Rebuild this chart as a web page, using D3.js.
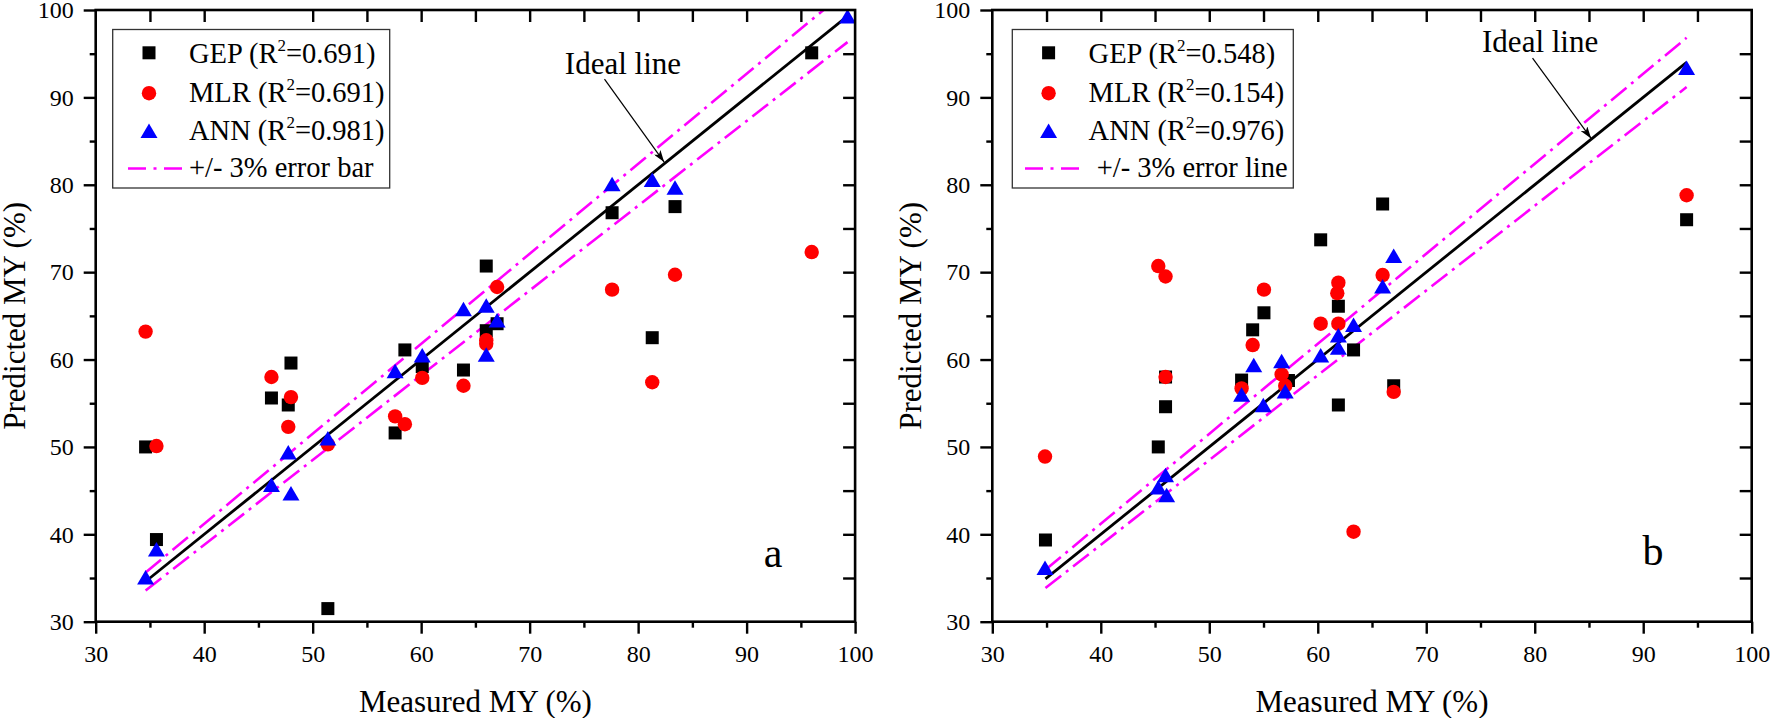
<!DOCTYPE html>
<html><head><meta charset="utf-8">
<script src="https://cdn.jsdelivr.net/npm/d3@7"></script>
<style>
body{margin:0;background:#fff}
svg{display:block}
text{font-family:"Liberation Serif","Times New Roman",serif;fill:#000}
</style>
</head><body>
<svg id="chart" width="1770" height="718"></svg>
<script>
// ---------- DATA ----------
const axisTicks = [30, 40, 50, 60, 70, 80, 90, 100];
const minorTicks = [35, 45, 55, 65, 75, 85, 95];

// Panel a
const aGepMeasured  = [34.6, 35.6, 46.2, 47.75, 48.0, 51.4, 57.6, 58.5, 60.1, 63.9, 66.0, 66.0, 67.0, 77.6, 81.3, 83.4, 96.0];
const aGepPredicted = [50.0, 39.4, 55.6, 54.8, 59.6, 31.5, 51.6, 61.1, 59.2, 58.8, 70.7, 63.3, 64.1, 76.8, 62.5, 77.5, 95.1];
const aMlrMeasured  = [34.6, 35.6, 46.2, 47.75, 48.0, 51.4, 57.6, 58.5, 60.1, 63.9, 66.0, 66.0, 67.0, 77.6, 81.3, 83.4, 96.0];
const aMlrPredicted = [63.2, 50.1, 58.0, 52.3, 55.7, 50.3, 53.5, 52.6, 57.9, 57.0, 62.2, 61.8, 68.3, 68.0, 57.4, 69.7, 72.3];
const aAnnMeasured  = [34.6, 35.6, 46.2, 47.75, 48.0, 51.4, 57.6, 60.1, 63.9, 66.0, 66.0, 67.0, 77.6, 81.3, 83.4, 99.3];
const aAnnPredicted = [35.0, 38.2, 45.6, 49.3, 44.6, 50.9, 58.6, 60.4, 65.7, 66.1, 60.5, 64.4, 80.0, 80.5, 79.6, 99.2];
const aIdealRange = [34.6, 99.3];
const aLegendLabels = ["GEP (R", "MLR (R", "ANN (R"];
const aR2 = ["0.691", "0.691", "0.981"];
const aErrorLabel = "+/- 3% error bar";

// Panel b
const bGepMeasured  = [34.9, 45.3, 45.97, 45.97, 52.98, 54.0, 55.04, 57.3, 60.27, 61.9, 61.9, 63.3, 65.98, 67.0, 94.0];
const bGepPredicted = [39.35, 50.0, 54.6, 58.0, 57.65, 63.4, 65.35, 57.6, 73.7, 66.1, 54.8, 61.1, 77.8, 57.0, 76.0];
const bMlrMeasured  = [34.86, 45.3, 45.97, 45.97, 52.98, 54.0, 55.04, 56.67, 57.0, 60.27, 61.9, 61.8, 61.9, 63.3, 65.98, 67.0, 94.0];
const bMlrPredicted = [48.9, 70.7, 69.5, 58.0, 56.7, 61.66, 68.0, 58.3, 57.0, 64.1, 68.8, 67.6, 64.1, 40.3, 69.67, 56.3, 78.8];
const bAnnMeasured  = [34.86, 45.3, 45.97, 46.07, 52.98, 54.1, 54.98, 56.67, 57.0, 60.27, 61.9, 61.9, 63.3, 65.98, 67.0, 94.0];
const bAnnPredicted = [36.1, 45.3, 46.7, 44.4, 55.9, 59.3, 54.7, 59.75, 56.3, 60.4, 62.7, 61.3, 63.9, 68.3, 71.8, 93.3];
const bIdealRange = [34.9, 94.0];
const bLegendLabels = ["GEP (R", "MLR (R", "ANN (R"];
const bR2 = ["0.548", "0.154", "0.976"];
const bErrorLabel = "+/- 3% error line";

const errorFraction = 0.03;

// ---------- LAYOUT ----------
const panels = [
  { letter: "a", left: 95.7, gx: aGepMeasured, gy: aGepPredicted, mx: aMlrMeasured, my: aMlrPredicted,
    nx: aAnnMeasured, ny: aAnnPredicted, ideal: aIdealRange, labels: aLegendLabels, r2: aR2, errLabel: aErrorLabel,
    legX: 17, legW: 277, errTextX: 76.3, lineX: [15.3, 70.3],
    arrow: [[76.9, 92.1], [82.4, 82.6]], idealText: [78.6, 92.7], letterPos: [677.3, 566.7], skipTop: [45] },
  { letter: "b", left: 992.3, gx: bGepMeasured, gy: bGepPredicted, mx: bMlrMeasured, my: bMlrPredicted,
    nx: bAnnMeasured, ny: bAnnPredicted, ideal: bIdealRange, labels: bLegendLabels, r2: bR2, errLabel: bErrorLabel,
    legX: 20, legW: 281, errTextX: 84.4, lineX: [12.7, 67.7],
    arrow: [[79.8, 94.5], [85.2, 85.3]], idealText: [80.5, 95.2], letterPos: [660.7, 565], skipTop: [] }
];
const plotW = 759.4, plotTop = 10, plotBottom = 621.7;

const svg = d3.select("#chart");
svg.append("rect").attr("width", 1770).attr("height", 718).attr("fill", "#fff");

const defs = svg.append("defs");
defs.append("marker").attr("id", "arrowhead").attr("viewBox", "0 0 12 8")
  .attr("refX", 12).attr("refY", 4).attr("markerWidth", 12).attr("markerHeight", 8)
  .attr("markerUnits", "userSpaceOnUse").attr("orient", "auto")
  .append("path").attr("d", "M0,0L12,4L0,8L3,4Z").attr("fill", "#000");

const triPath = "M0,-8L8.5,6.5L-8.5,6.5Z";
const dashPlot = "20,6,3,6";
const dashLegend = "18,7.5,3,7.5";

panels.forEach((p, pi) => {
  const x = d3.scaleLinear().domain([30, 100]).range([p.left, p.left + plotW]);
  const y = d3.scaleLinear().domain([30, 100]).range([plotBottom, plotTop]);
  const g = svg.append("g");

  defs.append("clipPath").attr("id", "clip" + pi).append("rect")
    .attr("x", p.left).attr("y", plotTop).attr("width", plotW).attr("height", plotBottom - plotTop);

  // axes
  const fmt = d => d;
  const bottomMajor = d3.axisBottom(x).tickValues(axisTicks).tickSize(12).tickPadding(11).tickFormat(fmt);
  const bottomMinor = d3.axisBottom(x).tickValues(minorTicks).tickSize(6).tickFormat("");
  const leftMajor = d3.axisLeft(y).tickValues(axisTicks).tickSize(12).tickPadding(10).tickFormat(fmt);
  const leftMinor = d3.axisLeft(y).tickValues(minorTicks).tickSize(6).tickFormat("");
  const topTicks = d3.axisTop(x).tickValues(axisTicks.concat(minorTicks).filter(v => v > 30 && v < 100 && !p.skipTop.includes(v)))
    .tickSize(-12).tickFormat("");
  const rightTicks = d3.axisRight(y).tickValues(axisTicks.concat(minorTicks).filter(v => v > 30 && v < 100))
    .tickSize(-12).tickFormat("");

  const styleAxis = sel => {
    sel.select(".domain").remove();
    sel.selectAll("line").attr("stroke", "#000").attr("stroke-width", 2.4);
    sel.selectAll("text").style("font-family", "'Liberation Serif','Times New Roman',serif")
      .style("font-size", "24px").attr("fill", "#000");
  };
  g.append("g").attr("transform", `translate(0,${plotBottom})`).call(bottomMajor).call(styleAxis);
  g.append("g").attr("transform", `translate(0,${plotBottom})`).call(bottomMinor).call(styleAxis);
  g.append("g").attr("transform", `translate(${p.left},0)`).call(leftMajor).call(styleAxis);
  g.append("g").attr("transform", `translate(${p.left},0)`).call(leftMinor).call(styleAxis);
  g.append("g").attr("transform", `translate(0,${plotTop})`).call(topTicks).call(styleAxis);
  g.append("g").attr("transform", `translate(${p.left + plotW},0)`).call(rightTicks).call(styleAxis);

  // lines
  const line = d3.line().x(d => x(d[0])).y(d => y(d[1]));
  const lineG = g.append("g").attr("clip-path", `url(#clip${pi})`);
  [1 + errorFraction, 1 - errorFraction].forEach(f => {
    lineG.append("path").datum(p.ideal.map(v => [v, v * f])).attr("d", line)
      .attr("fill", "none").attr("stroke", "#ff00ff").attr("stroke-width", 2.6)
      .attr("stroke-dasharray", dashPlot);
  });
  lineG.append("path").datum(p.ideal.map(v => [v, v])).attr("d", line)
    .attr("fill", "none").attr("stroke", "#000").attr("stroke-width", 2.8);

  // markers
  g.append("g").selectAll("rect").data(d3.zip(p.gx, p.gy)).join("rect")
    .attr("x", d => x(d[0]) - 6.5).attr("y", d => y(d[1]) - 6.5)
    .attr("width", 13).attr("height", 13).attr("fill", "#000");
  g.append("g").selectAll("circle").data(d3.zip(p.mx, p.my)).join("circle")
    .attr("cx", d => x(d[0])).attr("cy", d => y(d[1])).attr("r", 7.2).attr("fill", "#ff0000");
  g.append("g").selectAll("path").data(d3.zip(p.nx, p.ny)).join("path")
    .attr("d", triPath).attr("transform", d => `translate(${x(d[0])},${y(d[1])})`).attr("fill", "#0000ff");

  // frame
  g.append("rect").attr("x", p.left).attr("y", plotTop).attr("width", plotW).attr("height", plotBottom - plotTop)
    .attr("fill", "none").attr("stroke", "#000").attr("stroke-width", 2.6);

  // arrow annotation
  g.append("line").attr("x1", x(p.arrow[0][0])).attr("y1", y(p.arrow[0][1]))
    .attr("x2", x(p.arrow[1][0])).attr("y2", y(p.arrow[1][1]))
    .attr("stroke", "#000").attr("stroke-width", 1.2).attr("marker-end", "url(#arrowhead)");
  g.append("text").attr("x", x(p.idealText[0])).attr("y", y(p.idealText[1]))
    .attr("text-anchor", "middle").style("font-size", "31px").text("Ideal line");

  // panel letter
  g.append("text").attr("x", p.left + p.letterPos[0]).attr("y", p.letterPos[1])
    .attr("text-anchor", "middle").style("font-size", "42px").text(p.letter);

  // axis titles
  g.append("text").attr("x", p.left + plotW / 2).attr("y", 711.7).attr("text-anchor", "middle")
    .style("font-size", "31px").text("Measured MY (%)");
  g.append("text").attr("transform", `translate(${p.left - 71},${(plotTop + plotBottom) / 2}) rotate(-90)`)
    .attr("text-anchor", "middle").style("font-size", "31px").text("Predicted MY (%)");

  // legend
  const lx = p.left + p.legX, ly = 29.5;
  const leg = g.append("g");
  leg.append("rect").attr("x", lx).attr("y", ly).attr("width", p.legW).attr("height", 158.5)
    .attr("fill", "#fff").attr("stroke", "#333").attr("stroke-width", 1.3);
  const baselines = [63.3, 101.7, 140, 177];
  const mkX = lx + 36.3;
  leg.append("rect").attr("x", mkX - 6.5).attr("y", baselines[0] - 10.5 - 6.5).attr("width", 13).attr("height", 13).attr("fill", "#000");
  leg.append("circle").attr("cx", mkX).attr("cy", baselines[1] - 8.5).attr("r", 7.2).attr("fill", "#ff0000");
  leg.append("path").attr("d", triPath).attr("transform", `translate(${mkX},${baselines[2] - 8.5})`).attr("fill", "#0000ff");
  p.labels.forEach((lab, i) => {
    const t = leg.append("text").attr("x", lx + 76.3).attr("y", baselines[i]).style("font-size", "28.5px");
    t.append("tspan").text(lab);
    t.append("tspan").attr("dy", -12).style("font-size", "17px").text("2");
    t.append("tspan").attr("dy", 12).text("=" + p.r2[i] + ")");
  });
  leg.append("line").attr("x1", lx + p.lineX[0]).attr("x2", lx + p.lineX[1])
    .attr("y1", baselines[3] - 8.5).attr("y2", baselines[3] - 8.5)
    .attr("stroke", "#ff00ff").attr("stroke-width", 2.6).attr("stroke-dasharray", dashLegend);
  leg.append("text").attr("x", lx + p.errTextX).attr("y", baselines[3]).style("font-size", "28.5px").text(p.errLabel);
});
</script>
</body></html>
